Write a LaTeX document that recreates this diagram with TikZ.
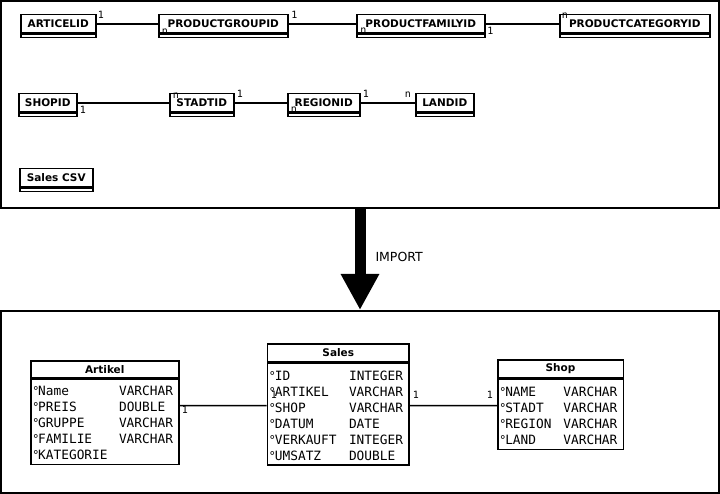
\documentclass[tikz,border=0pt]{standalone}
\usepackage{fontspec}
\setmainfont{DejaVu Sans}
\newfontfamily\monof{DejaVu Sans Mono}
\usetikzlibrary{positioning,arrows.meta}
\newcommand{\attr}[3]{\rule[-2pt]{0pt}{16pt}\makebox[#1][l]{\makebox[5.5pt][l]{\rmfamily\fontsize{12}{12}\selectfont°}#2}#3}

\begin{document}
\begin{tikzpicture}[x=1pt,y=-1pt,
  frame/.style={draw,line width=2pt,inner sep=0pt},
  idtitle/.style={draw,line width=1.5pt,anchor=north west,inner sep=0pt,minimum height=18.5pt,font=\bfseries\fontsize{10.5}{12}\selectfont},
  idbody/.style={draw,line width=1.5pt,inner sep=0pt,minimum height=2.7pt},
  enttitle/.style={draw,line width=1.5pt,anchor=north west,inner sep=0pt,font=\bfseries\fontsize{10.5}{12}\selectfont},
  entbody/.style={draw,line width=1.5pt,inner xsep=2pt,inner ysep=0pt,align=left,font=\monof\fontsize{12.8}{16}\selectfont},
  mult/.style={inner sep=0pt,font=\monof\fontsize{10}{10}\selectfont},
  link/.style={line width=1.5pt}]
\useasboundingbox (0,0) rectangle (720,494);

% frames and import arrow
\node[frame,minimum width=718pt,minimum height=207pt] (src) at (360,104.5) {};
\node[frame,minimum width=718pt,minimum height=182pt] (dst) at (360,402) {};
\draw[line width=11pt,-{Triangle[width=36pt,length=36pt]}] (src.south) -- (dst.north)
  node[pos=0.476,right=10pt,inner sep=0pt,font=\fontsize{12.5}{14}\selectfont] (imp) {IMPORT};

% id tables
\node[idtitle,minimum width=75pt] (art) at (20,14) {ARTICELID};
\node[idbody,minimum width=75pt,below=0pt of art] (artb) {};
\node[idtitle,minimum width=129pt] (pgrp) at (158,14) {PRODUCTGROUPID};
\node[idbody,minimum width=129pt,below=0pt of pgrp] (pgrpb) {};
\node[idtitle,minimum width=128pt] (pfam) at (356,14) {PRODUCTFAMILYID};
\node[idbody,minimum width=128pt,below=0pt of pfam] (pfamb) {};
\node[idtitle,minimum width=150pt] (pcat) at (559,14) {PRODUCTCATEGORYID};
\node[idbody,minimum width=150pt,below=0pt of pcat] (pcatb) {};

\node[idtitle,minimum width=58pt] (shop) at (18,93) {SHOPID};
\node[idbody,minimum width=58pt,below=0pt of shop] (shopb) {};
\node[idtitle,minimum width=64pt] (stadt) at (169,93) {STADTID};
\node[idbody,minimum width=64pt,below=0pt of stadt] (stadtb) {};
\node[idtitle,minimum width=72pt] (region) at (287,93) {REGIONID};
\node[idbody,minimum width=72pt,below=0pt of region] (regionb) {};
\node[idtitle,minimum width=58pt] (land) at (415,93) {LANDID};
\node[idbody,minimum width=58pt,below=0pt of land] (landb) {};

\node[idtitle,minimum width=73pt] (csv) at (19,168) {Sales CSV};
\node[idbody,minimum width=73pt,below=0pt of csv] (csvb) {};

\draw[link] (art) -- (pgrp);
\draw[link] (pgrp) -- (pfam);
\draw[link] (pfam) -- (pcat);
\draw[link] (shop) -- (stadt);
\draw[link] (stadt) -- (region);
\draw[link] (region) -- (land);

\node[mult] (m1) at (101,15) {1};
\node[mult] (m2) at (165,31.5) {n};
\node[mult] (m3) at (294.5,15) {1};
\node[mult] (m4) at (363.5,31) {n};
\node[mult] (m5) at (490.5,31) {1};
\node[mult] (m6) at (565,15.5) {n};
\node[mult] (m7) at (83,110) {1};
\node[mult] (m8) at (176,95.5) {n};
\node[mult] (m9) at (240,94) {1};
\node[mult] (m10) at (294,110) {n};
\node[mult] (m11) at (366,94) {1};
\node[mult] (m12) at (408,95) {n};

% imported tables
\node[enttitle,minimum width=148pt,minimum height=17pt] (artikel) at (30,360) {Artikel};
\node[entbody,text width=144pt,minimum height=85pt,below=0pt of artikel] (artikelb) {%
  \attr{86.3pt}{Name}{VARCHAR}\\
  \attr{86.3pt}{PREIS}{DOUBLE}\\
  \attr{86.3pt}{GRUPPE}{VARCHAR}\\
  \attr{86.3pt}{FAMILIE}{VARCHAR}\\
  \attr{86.3pt}{KATEGORIE}{}};

\node[enttitle,minimum width=141.6pt,minimum height=17.7pt] (sales) at (266.7,343.3) {Sales};
\node[entbody,text width=137.6pt,minimum height=101.7pt,below=0pt of sales] (salesb) {%
  \attr{79.6pt}{ID}{INTEGER}\\
  \attr{79.6pt}{ARTIKEL}{VARCHAR}\\
  \attr{79.6pt}{SHOP}{VARCHAR}\\
  \attr{79.6pt}{DATUM}{DATE}\\
  \attr{79.6pt}{VERKAUFT}{INTEGER}\\
  \attr{79.6pt}{UMSATZ}{DOUBLE}};

\node[enttitle,minimum width=125.5pt,minimum height=18pt] (shoptab) at (497,359.3) {Shop};
\node[entbody,text width=121.5pt,minimum height=69.7pt,below=0pt of shoptab] (shoptabb) {%
  \attr{63.7pt}{NAME}{VARCHAR}\\
  \attr{63.7pt}{STADT}{VARCHAR}\\
  \attr{63.7pt}{REGION}{VARCHAR}\\
  \attr{63.7pt}{LAND}{VARCHAR}};

\draw[link] ([yshift=-27pt]artikelb.north east) -- ([yshift=-43pt]salesb.north west);
\draw[link] ([yshift=-43pt]salesb.north east) -- ([yshift=-26.7pt]shoptabb.north west);

\node[mult] (m13) at (185,410) {1};
\node[mult] (m14) at (274,395) {1};
\node[mult] (m15) at (416,395) {1};
\node[mult] (m16) at (490,395) {1};
\end{tikzpicture}
\end{document}
